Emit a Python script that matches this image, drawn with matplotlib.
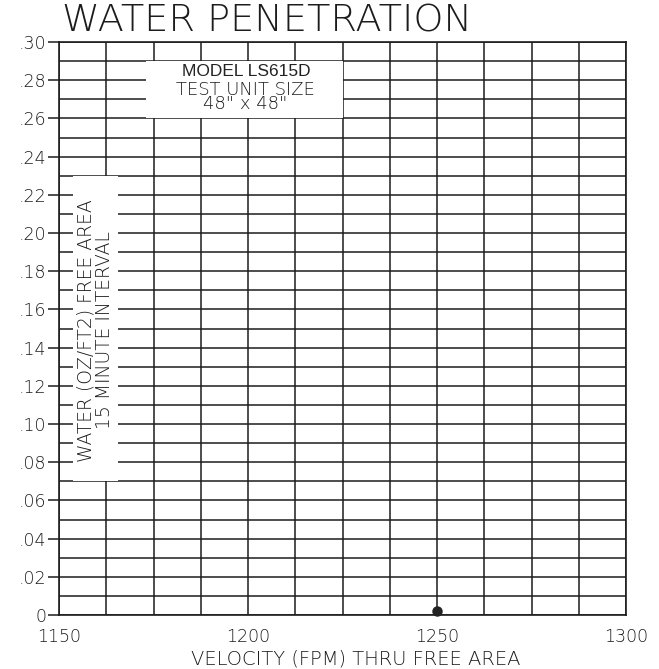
import matplotlib
matplotlib.use("Agg")
import matplotlib.pyplot as plt
from matplotlib.patches import Rectangle

# ---- data ----
velocity = [1250]
water = [0.002]
x_ticks = [1150, 1200, 1250, 1300]
x_ticklabels = ["1150", "1200", "1250", "1300"]
y_ticks = [0, 0.02, 0.04, 0.06, 0.08, 0.10, 0.12, 0.14, 0.16, 0.18, 0.20,
           0.22, 0.24, 0.26, 0.28, 0.30]
y_ticklabels = ["0", ".02", ".04", ".06", ".08", ".10", ".12", ".14", ".16",
                ".18", ".20", ".22", ".24", ".26", ".28", ".30"]
x_grid = [1150 + 12.5 * i for i in range(13)]
y_grid = [0.01 * i for i in range(31)]

title = "WATER PENETRATION"
xlabel = "VELOCITY (FPM) THRU FREE AREA"
ylabel_lines = "WATER (OZ/FT2) FREE AREA\n15 MINUTE INTERVAL"
model_text = "MODEL LS615D"
size_text = "TEST UNIT SIZE\n48\" x 48\""

INK = "#1c1c1c"
FONT = "DejaVu Sans"
LW = "light"

fig = plt.figure(figsize=(6.59, 6.69), dpi=100)
ax = fig.add_axes([59 / 659, 1 - 615 / 669, (626 - 59) / 659, (615 - 42) / 669])
ax.set_xlim(1150, 1300)
ax.set_ylim(0, 0.30)

ax.set_xticks(x_grid, minor=True)
ax.set_yticks(y_grid, minor=True)
ax.set_xticks(x_ticks)
ax.set_xticklabels(x_ticklabels, family=FONT, fontsize=12.5, color=INK, fontweight=LW)
ax.set_yticks(y_ticks)
ax.set_yticklabels(y_ticklabels, family=FONT, fontsize=12.5, color=INK, fontweight=LW)
ax.tick_params(axis="x", which="both", length=0, pad=9)
ax.tick_params(axis="y", which="major", length=8, width=1.1, color=INK, pad=1)
ax.tick_params(axis="y", which="minor", length=0)
ax.set_axisbelow(True)
ax.grid(True, which="both", color=INK, linewidth=1.1)
for s in ax.spines.values():
    s.set_color(INK)
    s.set_linewidth(1.2)

# white boxes behind annotations
ax.add_patch(Rectangle((1173, 0.26), 1225.2 - 1173, 0.03, facecolor="white",
                       edgecolor="none", zorder=2))
ax.add_patch(Rectangle((1153.7, 0.07), 1165.6 - 1153.7, 0.16, facecolor="white",
                       edgecolor="none", zorder=2))

ax.text(1199.5, 0.2843, model_text, family="Liberation Sans", fontsize=12.5,
        color="#222222", ha="center", va="center", zorder=3)
ax.text(1199.3, 0.2712, size_text, family=FONT, fontsize=13, color=INK,
        ha="center", va="center", zorder=3, fontweight=LW, linespacing=0.78,
        multialignment="center")
ax.text(1159.6, 0.149, ylabel_lines, family=FONT, fontsize=13.5, color=INK,
        ha="center", va="center", rotation=90, zorder=3, linespacing=1.0,
        multialignment="center", fontweight=LW)

ax.plot(velocity, water, "o", color="#222222", ms=6.5, zorder=4, clip_on=False)

fig.text(62 / 659, 1 - 21 / 669, title, family=FONT, fontsize=27.5,
         color=INK, ha="left", va="center", fontweight=LW)
fig.text(356 / 659, 1 - 659 / 669, xlabel, family=FONT, fontsize=14,
         color=INK, ha="center", va="center", fontweight=LW)

fig.savefig("out.png", dpi=100)
